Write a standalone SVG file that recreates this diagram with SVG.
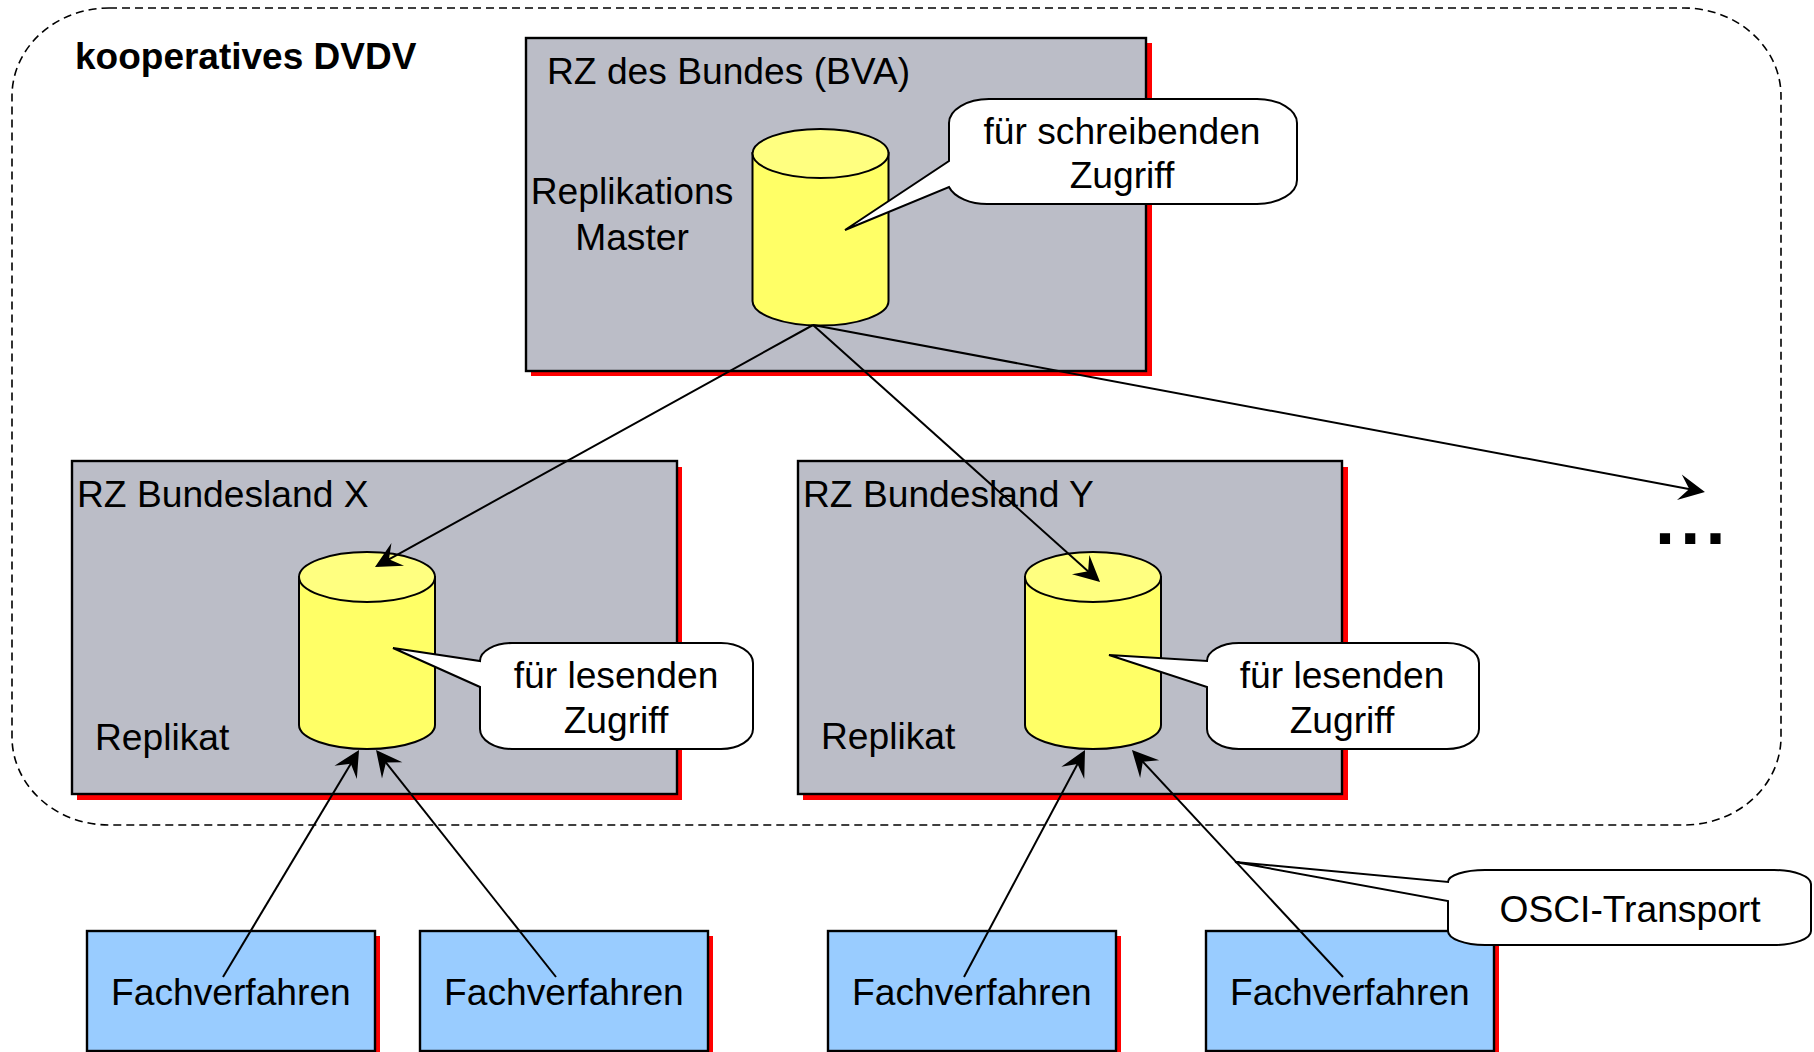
<svg xmlns="http://www.w3.org/2000/svg" width="1814" height="1052" viewBox="0 0 1814 1052">
<style>
text{font-family:"Liberation Sans",Arial,sans-serif;font-size:37.2px;fill:#000}
.c{text-anchor:middle}
.b{font-weight:bold;font-size:37px}
.shadow{fill:#f00;stroke:none}
.rz{fill:#bbbdc7;stroke:#000;stroke-width:2.4}
.fv{fill:#99ccff;stroke:#000;stroke-width:2.4}
.body{fill:#ffff66;stroke:#000;stroke-width:2}
.top{fill:#ffff80;stroke:#000;stroke-width:2}
.call{fill:#fff;stroke:#000;stroke-width:2;stroke-linejoin:miter}
.conn{fill:none;stroke:#000;stroke-width:2;marker-end:url(#head)}
</style>
<defs>
<marker id="head" markerUnits="userSpaceOnUse" markerWidth="32" markerHeight="30" viewBox="-27 -15 32 30" refX="-3" refY="0" orient="auto">
<path d="M0,0L-26,-13L-16,0L-26,13Z" fill="#000"/>
</marker>
</defs>
<rect width="1814" height="1052" fill="#fff"/>
<g id="dvdv">
<rect x="12" y="8" width="1769" height="817" rx="97" ry="88" fill="none" stroke="#000" stroke-width="1.6" stroke-dasharray="8 5"/>
<text class="b" x="75" y="69">kooperatives DVDV</text>
</g>
<g id="rz-bund">
<rect class="shadow" x="531" y="43" width="621" height="333"/>
<rect class="rz" x="526" y="38" width="620" height="333"/>
<text x="547" y="84">RZ des Bundes (BVA)</text>
<text class="c" x="632" y="204">Replikations</text>
<text class="c" x="632" y="250">Master</text>
</g>
<g id="rz-x">
<rect class="shadow" x="77" y="467" width="605" height="333"/>
<rect class="rz" x="72" y="461" width="605" height="333"/>
<text x="77" y="507">RZ Bundesland X</text>
<text x="95" y="750">Replikat</text>
</g>
<g id="rz-y">
<rect class="shadow" x="803" y="467" width="545" height="333"/>
<rect class="rz" x="798" y="461" width="544" height="333"/>
<text x="803" y="507">RZ Bundesland Y</text>
<text x="821" y="749">Replikat</text>
</g>
<g id="db-master">
<path class="body" d="M752.500,153V301A68,24.500 0 0 0 888.500,301V153Z"/>
<ellipse class="top" cx="820.500" cy="153.500" rx="68" ry="24.500"/>
</g>
<g id="db-x">
<path class="body" d="M299,577V725A68,24 0 0 0 435,725V577Z"/>
<ellipse class="top" cx="367" cy="577" rx="68" ry="25"/>
</g>
<g id="db-y">
<path class="body" d="M1025,577V725A68,24 0 0 0 1161,725V577Z"/>
<ellipse class="top" cx="1093" cy="577" rx="68" ry="25"/>
</g>
<g id="fv-1">
<rect class="shadow" x="92" y="936" width="288" height="116"/>
<rect class="fv" x="87" y="931" width="288" height="120"/>
<text x="111" y="1005">Fachverfahren</text>
</g>
<g id="fv-2">
<rect class="shadow" x="425" y="936" width="288" height="116"/>
<rect class="fv" x="420" y="931" width="288" height="120"/>
<text x="444" y="1005">Fachverfahren</text>
</g>
<g id="fv-3">
<rect class="shadow" x="833" y="936" width="288" height="116"/>
<rect class="fv" x="828" y="931" width="288" height="120"/>
<text x="852" y="1005">Fachverfahren</text>
</g>
<g id="fv-4">
<rect class="shadow" x="1211" y="936" width="288" height="116"/>
<rect class="fv" x="1206" y="931" width="288" height="120"/>
<text x="1230" y="1005">Fachverfahren</text>
</g>
<g id="connectors">
<path class="conn" d="M813,325L377.600,565.600"/>
<path class="conn" d="M813,325L1097.800,580"/>
<path class="conn" d="M813,325L1702,491.400"/>
<path class="conn" d="M223,977L357.500,752.600"/>
<path class="conn" d="M556,977L377.900,752.400"/>
<path class="conn" d="M964,977L1083.600,752.600"/>
<path class="conn" d="M1343,977L1134,752.200"/>
</g>
<g id="call-schreiben">
<path class="call" d="M949,161V123A40,24 0 0 1 989,99H1257A40,24 0 0 1 1297,123V180A40,24 0 0 1 1257,204H989A40,24 0 0 1 949,187L845,230Z"/>
<text class="c" x="1122" y="144">für schreibenden</text>
<text class="c" x="1122" y="188">Zugriff</text>
</g>
<g id="call-lesen-x">
<path class="call" d="M480,661A32,18 0 0 1 512,643H721A32,20 0 0 1 753,663V729A32,20 0 0 1 721,749H512A32,20 0 0 1 480,729V687L393,648Z"/>
<text class="c" x="616" y="688">für lesenden</text>
<text class="c" x="616" y="733">Zugriff</text>
</g>
<g id="call-lesen-y">
<path class="call" d="M1207,661A32,18 0 0 1 1239,643H1447A32,20 0 0 1 1479,663V729A32,20 0 0 1 1447,749H1239A32,20 0 0 1 1207,729V687L1109,655Z"/>
<text class="c" x="1342" y="688">für lesenden</text>
<text class="c" x="1342" y="733">Zugriff</text>
</g>
<g id="call-osci">
<path class="call" d="M1448,882A37,12 0 0 1 1485,870H1774A37,14 0 0 1 1811,884V931A37,14 0 0 1 1774,945H1485A37,14 0 0 1 1448,931V901L1235,862Z"/>
<text class="c" x="1630" y="922">OSCI-Transport</text>
</g>
<g id="more">
<text class="b" x="1655" y="544" style="font-size:72px;letter-spacing:5.2px">...</text>
</g>
</svg>
